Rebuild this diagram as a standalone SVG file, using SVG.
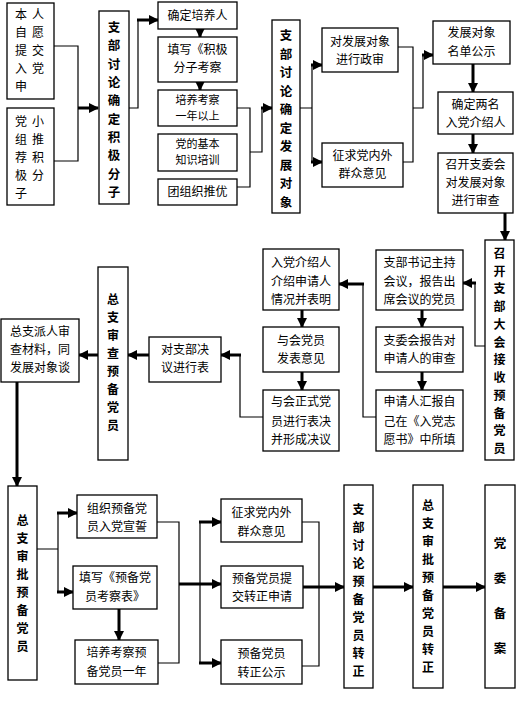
<svg xmlns="http://www.w3.org/2000/svg" width="518" height="711" viewBox="0 0 518 711">
<style>
rect{fill:#fff;stroke:#000;stroke-width:1.3}
text{font-family:"Noto Sans CJK SC","Noto Sans CJK JP",sans-serif;fill:#000}
.t{font-size:12px;text-anchor:middle}
.s{font-size:11px;text-anchor:middle}
.c{font-size:12px;text-anchor:middle}
.v{font-size:12px;font-weight:bold;text-anchor:middle}
.w{font-size:12.5px;font-weight:bold;text-anchor:middle}
.l{fill:none;stroke:#000;stroke-width:1.2}
.k{fill:none;stroke:#000;stroke-width:3}
.a{marker-end:url(#ah)}
</style>
<defs>
<marker id="ah" markerUnits="userSpaceOnUse" markerWidth="10" markerHeight="10" refX="9" refY="5" orient="auto" viewBox="0 0 10 10"><path d="M0,0 L10,5 L0,10 z" fill="#000"/></marker>
</defs>
<rect x="0" y="0" width="518" height="711" style="fill:#fff;stroke:none"/>
<g id="connectors">
<path class="l" d="M54,46 H78 V161 H54"/>
<path class="k a" d="M78,108 H98"/>
<path class="l" d="M129,108 H138 V20"/>
<path class="k a" d="M137,20 H158"/>
<path class="k a" d="M200,29 V37"/>
<path class="k a" d="M200,82 V90"/>
<path class="l" d="M237,108 H250 V187 H237"/>
<path class="l" d="M250,152 H262 V108"/>
<path class="k a" d="M261,108 H272"/>
<path class="l" d="M300,108 H312 M312,65 V162"/>
<path class="k a" d="M311,65 H322"/>
<path class="k a" d="M311,162 H322"/>
<path class="l" d="M398,47 H413 V162 H403"/>
<path class="l" d="M413,108 H423 V55"/>
<path class="k a" d="M422,55 H433"/>
<path class="k a" d="M473,64 V92"/>
<path class="k a" d="M473,134 V153"/>
<path class="k a" d="M505,213 V240"/>
<path class="l" d="M485,346 H475 V283"/>
<path class="k a" d="M476,283 H463"/>
<path class="k a" d="M422,310 V327"/>
<path class="k a" d="M422,372 V390"/>
<path class="l" d="M376,417 H363 V284"/>
<path class="k a" d="M364,284 H339"/>
<path class="k a" d="M302,310 V327"/>
<path class="k a" d="M302,372 V390"/>
<path class="l" d="M263,417 H240 V355"/>
<path class="k a" d="M241,355 H221"/>
<path class="k a" d="M149,355 H128"/>
<path class="k a" d="M98,355 H79"/>
<path class="k a" d="M17,382 V486"/>
<path class="l" d="M37,549 H58 M58,513 V592"/>
<path class="k a" d="M57,513 H77"/>
<path class="k a" d="M57,592 H73"/>
<path class="k a" d="M119,609 V640"/>
<path class="l" d="M157,522 H179 V663 H158"/>
<path class="k a" d="M179,584 H221"/>
<path class="l" d="M200,522 V663"/>
<path class="k a" d="M199,522 H221"/>
<path class="k a" d="M199,663 H221"/>
<path class="l" d="M302,522 H319 V666 H302"/>
<path class="k a" d="M303,587 H344"/>
<path class="k a" d="M373,587 H413"/>
<path class="k a" d="M443,587 H485"/>
</g>
<g id="n1"><rect x="7" y="3" width="47" height="96"/>
<text class="c"><tspan x="21" y="19">本</tspan><tspan x="38" y="19">人</tspan><tspan x="21" y="37">自</tspan><tspan x="38" y="37">愿</tspan><tspan x="21" y="55">提</tspan><tspan x="38" y="55">交</tspan><tspan x="21" y="73">入</tspan><tspan x="38" y="73">党</tspan><tspan x="21" y="91">申</tspan></text></g>
<g id="n2"><rect x="7" y="108" width="47" height="97"/>
<text class="c"><tspan x="21" y="126">党</tspan><tspan x="38" y="126">小</tspan><tspan x="21" y="144">组</tspan><tspan x="38" y="144">推</tspan><tspan x="21" y="162">荐</tspan><tspan x="38" y="162">积</tspan><tspan x="21" y="180">极</tspan><tspan x="38" y="180">分</tspan><tspan x="21" y="198">子</tspan></text></g>
<g id="n3"><rect x="99" y="11" width="30" height="193"/>
<text class="w"><tspan x="114" y="32">支</tspan><tspan x="114" y="50">部</tspan><tspan x="114" y="69">讨</tspan><tspan x="114" y="87">论</tspan><tspan x="114" y="105">确</tspan><tspan x="114" y="124">定</tspan><tspan x="114" y="142">积</tspan><tspan x="114" y="160">极</tspan><tspan x="114" y="179">分</tspan><tspan x="114" y="197">子</tspan></text></g>
<g id="n4"><rect x="158" y="2" width="79" height="27"/><text class="t" x="197.5" y="20">确定培养人</text></g>
<g id="n5"><rect x="158" y="37" width="79" height="45"/><text class="t"><tspan x="197.5" y="54">填写《积极</tspan><tspan x="197.5" y="72">分子考察</tspan></text></g>
<g id="n6"><rect x="158" y="90" width="79" height="36"/><text class="s"><tspan x="197.5" y="104">培养考察</tspan><tspan x="197.5" y="120">一年以上</tspan></text></g>
<g id="n7"><rect x="158" y="134" width="79" height="37"/><text class="s"><tspan x="197.5" y="148">党的基本</tspan><tspan x="197.5" y="164">知识培训</tspan></text></g>
<g id="n8"><rect x="158" y="179" width="79" height="26"/><text class="t" x="197.5" y="196">团组织推优</text></g>
<g id="n9"><rect x="272" y="20" width="28" height="193"/>
<text class="w"><tspan x="286" y="40">支</tspan><tspan x="286" y="59">部</tspan><tspan x="286" y="77">讨</tspan><tspan x="286" y="96">论</tspan><tspan x="286" y="114">确</tspan><tspan x="286" y="133">定</tspan><tspan x="286" y="151">发</tspan><tspan x="286" y="170">展</tspan><tspan x="286" y="188">对</tspan><tspan x="286" y="207">象</tspan></text></g>
<g id="n10"><rect x="322" y="28" width="76" height="44"/><text class="t"><tspan x="360" y="46">对发展对象</tspan><tspan x="360" y="64">进行政审</tspan></text></g>
<g id="n11"><rect x="322" y="143" width="81" height="44"/><text class="t"><tspan x="362.5" y="160">征求党内外</tspan><tspan x="362.5" y="178">群众意见</tspan></text></g>
<g id="n12"><rect x="433" y="21" width="77" height="43"/><text class="t"><tspan x="471.5" y="37">发展对象</tspan><tspan x="471.5" y="56">名单公示</tspan></text></g>
<g id="n13"><rect x="438" y="92" width="75" height="42"/><text class="t"><tspan x="475.5" y="109">确定两名</tspan><tspan x="475.5" y="127">入党介绍人</tspan></text></g>
<g id="n14"><rect x="438" y="153" width="75" height="60"/><text class="t"><tspan x="475.5" y="169">召开支委会</tspan><tspan x="475.5" y="187">对发展对象</tspan><tspan x="475.5" y="205">进行审查</tspan></text></g>
<g id="n15"><rect x="485" y="240" width="29" height="220"/>
<text class="v"><tspan x="499.5" y="258">召</tspan><tspan x="499.5" y="276">开</tspan><tspan x="499.5" y="293">支</tspan><tspan x="499.5" y="311">部</tspan><tspan x="499.5" y="329">大</tspan><tspan x="499.5" y="347">会</tspan><tspan x="499.5" y="364">接</tspan><tspan x="499.5" y="382">收</tspan><tspan x="499.5" y="400">预</tspan><tspan x="499.5" y="418">备</tspan><tspan x="499.5" y="435">党</tspan><tspan x="499.5" y="453">员</tspan></text></g>
<g id="n16"><rect x="376" y="250" width="87" height="60"/><text class="t"><tspan x="419.5" y="267">支部书记主持</tspan><tspan x="419.5" y="286">会议，报告出</tspan><tspan x="419.5" y="304">席会议的党员</tspan></text></g>
<g id="n17"><rect x="376" y="327" width="87" height="45"/><text class="t"><tspan x="419.5" y="345">支委会报告对</tspan><tspan x="419.5" y="363">申请人的审查</tspan></text></g>
<g id="n18"><rect x="376" y="390" width="87" height="61"/><text class="t"><tspan x="419.5" y="406">申请人汇报自</tspan><tspan x="419.5" y="426">己在《入党志</tspan><tspan x="419.5" y="444">愿书》中所填</tspan></text></g>
<g id="n19"><rect x="263" y="249" width="76" height="61"/><text class="t"><tspan x="301" y="267">入党介绍人</tspan><tspan x="301" y="286">介绍申请人</tspan><tspan x="301" y="304">情况并表明</tspan></text></g>
<g id="n20"><rect x="263" y="327" width="76" height="45"/><text class="t"><tspan x="301" y="345">与会党员</tspan><tspan x="301" y="363">发表意见</tspan></text></g>
<g id="n21"><rect x="263" y="390" width="76" height="61"/><text class="t"><tspan x="301" y="406">与会正式党</tspan><tspan x="301" y="426">员进行表决</tspan><tspan x="301" y="444">并形成决议</tspan></text></g>
<g id="n22"><rect x="149" y="337" width="72" height="45"/><text class="t"><tspan x="185" y="354">对支部决</tspan><tspan x="185" y="372">议进行表</tspan></text></g>
<g id="n23"><rect x="98" y="267" width="30" height="193"/>
<text class="v"><tspan x="113" y="304">总</tspan><tspan x="113" y="322">支</tspan><tspan x="113" y="340">审</tspan><tspan x="113" y="358">查</tspan><tspan x="113" y="376">预</tspan><tspan x="113" y="394">备</tspan><tspan x="113" y="412">党</tspan><tspan x="113" y="430">员</tspan></text></g>
<g id="n24"><rect x="1" y="319" width="78" height="63"/><text class="t"><tspan x="40" y="336">总支派人审</tspan><tspan x="40" y="354">查材料，同</tspan><tspan x="40" y="372">发展对象谈</tspan></text></g>
<g id="n25"><rect x="8" y="486" width="29" height="194"/>
<text class="v"><tspan x="22.5" y="525">总</tspan><tspan x="22.5" y="543">支</tspan><tspan x="22.5" y="561">审</tspan><tspan x="22.5" y="579">批</tspan><tspan x="22.5" y="597">预</tspan><tspan x="22.5" y="615">备</tspan><tspan x="22.5" y="633">党</tspan><tspan x="22.5" y="651">员</tspan></text></g>
<g id="n26"><rect x="77" y="495" width="80" height="43"/><text class="t"><tspan x="117" y="513">组织预备党</tspan><tspan x="117" y="531">员入党宣誓</tspan></text></g>
<g id="n27"><rect x="73" y="566" width="84" height="43"/><text class="t"><tspan x="115" y="582">填写《预备党</tspan><tspan x="115" y="601">员考察表》</tspan></text></g>
<g id="n28"><rect x="75" y="640" width="83" height="44"/><text class="t"><tspan x="116.5" y="657">培养考察预</tspan><tspan x="116.5" y="676">备党员一年</tspan></text></g>
<g id="n29"><rect x="221" y="499" width="81" height="43"/><text class="t"><tspan x="261.5" y="517">征求党内外</tspan><tspan x="261.5" y="536">群众意见</tspan></text></g>
<g id="n30"><rect x="221" y="566" width="82" height="42"/><text class="t"><tspan x="262" y="583">预备党员提</tspan><tspan x="262" y="601">交转正申请</tspan></text></g>
<g id="n31"><rect x="221" y="640" width="81" height="44"/><text class="t"><tspan x="261.5" y="658">预备党员</tspan><tspan x="261.5" y="677">转正公示</tspan></text></g>
<g id="n32"><rect x="344" y="485" width="29" height="203"/>
<text class="v"><tspan x="358.5" y="514">支</tspan><tspan x="358.5" y="532">部</tspan><tspan x="358.5" y="550">讨</tspan><tspan x="358.5" y="568">论</tspan><tspan x="358.5" y="586">预</tspan><tspan x="358.5" y="604">备</tspan><tspan x="358.5" y="622">党</tspan><tspan x="358.5" y="640">员</tspan><tspan x="358.5" y="658">转</tspan><tspan x="358.5" y="676">正</tspan></text></g>
<g id="n33"><rect x="413" y="485" width="30" height="203"/>
<text class="v"><tspan x="428" y="510">总</tspan><tspan x="428" y="528">支</tspan><tspan x="428" y="546">审</tspan><tspan x="428" y="564">批</tspan><tspan x="428" y="582">预</tspan><tspan x="428" y="600">备</tspan><tspan x="428" y="618">党</tspan><tspan x="428" y="636">员</tspan><tspan x="428" y="654">转</tspan><tspan x="428" y="672">正</tspan></text></g>
<g id="n34"><rect x="485" y="485" width="30" height="203"/>
<text class="w"><tspan x="500" y="548">党</tspan><tspan x="500" y="583">委</tspan><tspan x="500" y="618">备</tspan><tspan x="500" y="653">案</tspan></text></g>
</svg>
